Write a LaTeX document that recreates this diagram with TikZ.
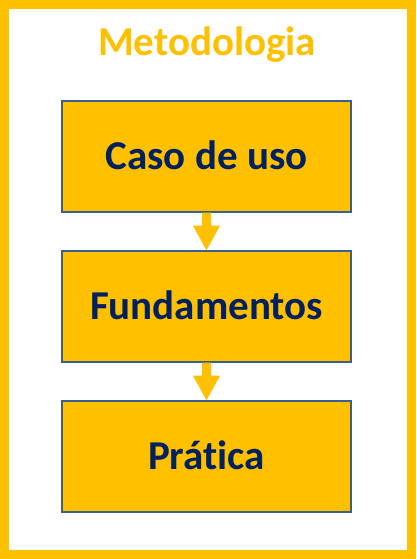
\documentclass[tikz,border=0pt]{standalone}
\usepackage{fontspec}
\setmainfont{Carlito}[Ligatures=NoCommon]
\usetikzlibrary{calc}
\definecolor{gold}{HTML}{FFC000}
\definecolor{navy}{HTML}{002060}
\definecolor{edge}{HTML}{3A5F8C}
\tikzset{
  stepbox/.style={draw=edge, line width=1.5pt, fill=gold, minimum width=289pt, minimum height=111pt, inner sep=0pt, text height=26pt, text depth=0pt, text=navy, font=\fontsize{41}{48}\selectfont\bfseries},
  blockarrow/.style={fill=gold, draw=none}
}
\begin{document}
\begin{tikzpicture}[x=1pt,y=1pt]
\useasboundingbox (0,0) rectangle (416,559);
\fill[white] (0,0) rectangle (416,559);
\draw[gold, line width=9pt] (4.5,4.5) rectangle (411.5,554.5);
\node[text=gold, font=\fontsize{41}{48}\selectfont\bfseries, anchor=base] (title) at (207,503) {Metodologia};
\node[stepbox] (b1) at (206.5,402.5) {Caso de uso};
\node[stepbox] (b2) at (206.5,252.5) {Fundamentos};
\node[stepbox] (b3) at (206.5,102.5) {Prática};
\foreach \a/\b in {b1/b2, b2/b3}{
  \fill[blockarrow] ($(\a.south)+(-4.5,0)$) -- ($(\a.south)+(4.5,0)$) -- ($(\a.south)+(4.5,-13)$) -- ($(\a.south)+(13.5,-13)$) -- (\b.north) -- ($(\a.south)+(-13.5,-13)$) -- ($(\a.south)+(-4.5,-13)$) -- cycle;
}
\end{tikzpicture}
\end{document}
